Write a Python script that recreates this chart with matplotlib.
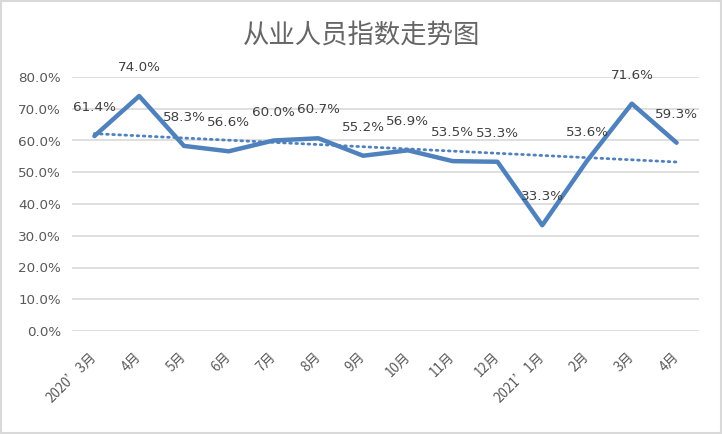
import numpy as np
import matplotlib
matplotlib.use("Agg")
import matplotlib.pyplot as plt
from matplotlib.patches import Rectangle
from matplotlib.ticker import PercentFormatter

plt.rcParams["font.family"] = ["DejaVu Sans", "Noto Sans CJK SC"]

# 数据
months = ["2020’3月", "4月", "5月", "6月", "7月", "8月", "9月", "10月",
          "11月", "12月", "2021’1月", "2月", "3月", "4月"]
values = [61.4, 74.0, 58.3, 56.6, 60.0, 60.7, 55.2, 56.9,
          53.5, 53.3, 33.3, 53.6, 71.6, 59.3]
y_ticks = [0, 10, 20, 30, 40, 50, 60, 70, 80]

LINE_COLOR = "#4F81BD"
TEXT_COLOR = "#595959"
GRID_COLOR = "#D9D9D9"

fig = plt.figure(figsize=(7.22, 4.34), dpi=100)
ax = fig.add_axes([72 / 722, 103 / 434, 627 / 722, 254 / 434])

x = np.arange(len(values))
ax.plot(x, values, color=LINE_COLOR, linewidth=3.2, solid_joinstyle="round",
        solid_capstyle="round", zorder=3)

# 线性趋势线
k, b = np.polyfit(x, values, 1)
ax.plot(x, k * x + b, color=LINE_COLOR, linewidth=2.0, linestyle=(0, (0.6, 1.6)),
        dash_capstyle="round", zorder=2)

# 数据标签
for xi, v in zip(x, values):
    ax.annotate(f"{v:.1f}%", (xi, v), xytext=(0, 20.5), textcoords="offset points",
                ha="center", va="center", fontsize=9.7, color="#404040", zorder=4)

ax.set_xlim(-0.5, len(values) - 0.5)
ax.set_ylim(0, 80)
ax.set_yticks(y_ticks)
ax.yaxis.set_major_formatter(PercentFormatter(decimals=1))
ax.set_xticks(x)
ax.set_xticklabels(months, rotation=45, ha="right", va="center",
                   rotation_mode="anchor", family=["Noto Sans CJK SC", "DejaVu Sans"])
ax.tick_params(axis="x", length=0, pad=17, labelsize=9.7, labelcolor=TEXT_COLOR)
ax.tick_params(axis="y", length=0, pad=8, labelsize=9.7, labelcolor=TEXT_COLOR)
ax.grid(axis="y", color=GRID_COLOR, linewidth=1.2)
ax.set_axisbelow(True)
for s in ax.spines.values():
    s.set_visible(False)

fig.text(362 / 722, 1 - 35 / 434, "从业人员指数走势图", ha="center", va="center",
         fontsize=19, color="#666666", family=["Noto Sans CJK SC"], fontweight="light")

fig.patches.append(Rectangle((0.001, 0.002), 0.997, 0.995, transform=fig.transFigure,
                             fill=False, edgecolor=GRID_COLOR, linewidth=1.5))

fig.savefig("out.png", dpi=100)
